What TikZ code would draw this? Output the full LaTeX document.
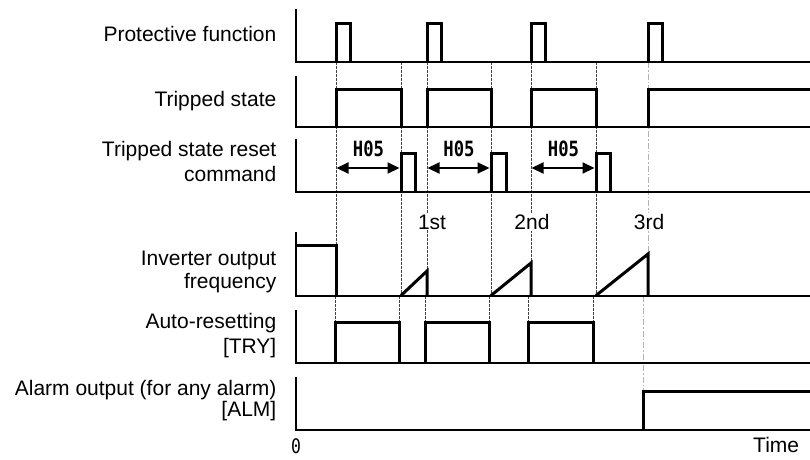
\documentclass[tikz,border=0pt]{standalone}
\usepackage{fontspec}
\setmainfont{Liberation Sans}
\newfontfamily\hfont[FakeStretch=0.82]{DejaVu Sans Mono}
\usetikzlibrary{arrows.meta}
\begin{document}
\begin{tikzpicture}[x=1pt,y=-1pt,
  lbl/.style={anchor=base east, inner sep=0pt, font=\fontsize{21}{24}\selectfont},
  axisline/.style={line width=1.5pt},
  baseln/.style={line width=2pt},
  sig/.style={line width=3pt, line join=miter},
  guide/.style={line width=0.9pt, black!75, dash pattern=on 2.5pt off 1.5pt},
  guidegray/.style={line width=0.9pt, gray!60, dash pattern=on 6pt off 2pt on 1.5pt off 2pt},
  count/.style={fill=white, inner sep=1pt, font=\fontsize{21}{24}\selectfont},
  hlbl/.style={anchor=base, inner sep=0pt, font=\hfont\bfseries\fontsize{21}{24}\selectfont},
  dimarrow/.style={line width=2pt, {Triangle[length=12pt,width=11pt]}-{Triangle[length=12pt,width=11pt]}}
]
\useasboundingbox (0,0) rectangle (810,459);

% guide lines
\foreach \x in {336,401,427,491,531,596} \draw[guide] (\x,62) -- (\x,296);
\foreach \x in {335,399,425,489,528,593} \draw[guide] (\x,296) -- (\x,322);
\draw[guidegray] (648,62) -- (648,296);
\draw[guidegray] (643,296) -- (643,391);

% count labels
\node[count] (n1) at (432,222) {1st};
\node[count] (n2) at (532,222) {2nd};
\node[count] (n3) at (649,222) {3rd};

% Protective function
\draw[axisline] (296,9) -- (296,62);
\draw[baseln] (295.25,62) -- (810,62);
\foreach \a/\b in {336/350,427/441,531/545,648/662}
  \draw[sig] (\a,62) -- (\a,23) -- (\b,23) -- (\b,62);

% Tripped state
\draw[axisline] (296,76) -- (296,127);
\draw[baseln] (295.25,127) -- (810,127);
\foreach \a/\b in {336/401,427/491,531/596}
  \draw[sig] (\a,127) -- (\a,89) -- (\b,89) -- (\b,127);
\draw[sig] (648,127) -- (648,89) -- (810,89);

% Reset command
\draw[axisline] (296,139) -- (296,192);
\draw[baseln] (295.25,192) -- (810,192);
\foreach \a/\b in {401/415,491/506,596/610}
  \draw[sig] (\a,192) -- (\a,153) -- (\b,153) -- (\b,192);

% H05 arrows
\coordinate (s1) at (336.5,168); \coordinate (e1) at (399.5,168);
\coordinate (s2) at (427.5,168); \coordinate (e2) at (489.5,168);
\coordinate (s3) at (531.5,168); \coordinate (e3) at (594.5,168);
\draw[dimarrow] (s1) -- (e1);
\draw[dimarrow] (s2) -- (e2);
\draw[dimarrow] (s3) -- (e3);
\node[hlbl] (h1) at (368.5,156) {H05};
\node[hlbl] (h2) at (459,156) {H05};
\node[hlbl] (h3) at (563.5,156) {H05};

% Inverter output frequency
\draw[axisline] (296,232) -- (296,295.5);
\draw[baseln] (295.25,295.5) -- (810,295.5);
\draw[sig] (296,245) -- (336,245) -- (336,295.5);
\draw[sig] (401,295.5) -- (427,271) -- (427,295.5);
\draw[sig] (491,295.5) -- (531,263) -- (531,295.5);
\draw[sig] (596,295.5) -- (648,254) -- (648,295.5);

% Auto-resetting
\draw[axisline] (296,310) -- (296,363);
\draw[baseln] (295.25,363) -- (810,363);
\foreach \a/\b in {335/399,425/489,528/593}
  \draw[sig] (\a,363) -- (\a,322) -- (\b,322) -- (\b,363);

% Alarm output
\draw[axisline] (296,377) -- (296,430);
\draw[baseln] (295.25,430) -- (810,430);
\draw[sig] (643,430) -- (643,391) -- (810,391);

% labels
\node[lbl] (pf) at (276.5,41.7) {Protective function};
\node[lbl] (ts) at (276.5,106.5) {Tripped state};
\node[lbl] (tr1) at (276.5,156.5) {Tripped state reset};
\node[lbl] (tr2) at (276.5,181) {command};
\node[lbl] (io1) at (276.5,265) {Inverter output};
\node[lbl] (io2) at (276.5,288.5) {frequency};
\node[lbl] (ar1) at (276.5,328.5) {Auto-resetting};
\node[lbl] (ar2) at (276.5,353) {[TRY]};
\node[lbl] (al1) at (276.5,395) {Alarm output (for any alarm)};
\node[lbl] (al2) at (276.5,416.7) {[ALM]};

\node[hlbl, font=\hfont\fontsize{20}{24}\selectfont] (zero) at (296,453.5) {0};
\node[anchor=base west, inner sep=0pt, font=\fontsize{21}{24}\selectfont] (time) at (753,452) {Time};
\end{tikzpicture}
\end{document}
